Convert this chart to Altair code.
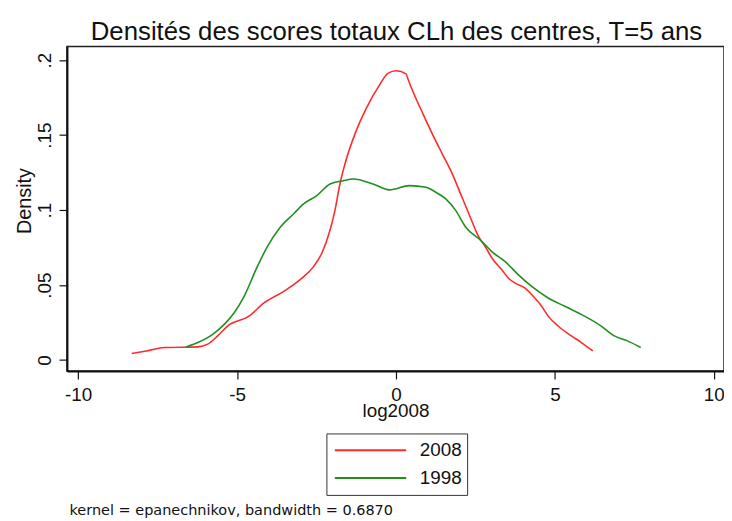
import altair as alt
import pandas as pd

# ---- data ----
series_names = ["2008", "1998"]
series_colors = ["#ff2b2b", "#1f8f1f"]

x2008 = [-8.315, -7.847, -7.273, -6.234, -5.922, -5.610, -5.298, -4.621, -4.153, -3.529,
         -2.958, -2.593, -2.334, -2.075, -1.919, -1.763, -1.607, -1.295, -0.930, -0.515,
         -0.253, 0.006, 0.318, 0.371, 0.577, 0.839, 1.151, 1.463, 1.775, 2.034,
         2.293, 2.605, 2.814, 3.023, 3.335, 3.541, 3.750, 4.062, 4.271, 4.583,
         4.789, 5.101, 5.519, 5.832, 6.193]
y2008 = [0.0044, 0.0061, 0.0084, 0.0088, 0.0106, 0.0161, 0.0227, 0.0293, 0.0381, 0.0458,
         0.0546, 0.0623, 0.0712, 0.0866, 0.0998, 0.1174, 0.1306, 0.1505, 0.1680, 0.1835,
         0.1912, 0.1929, 0.1908, 0.1878, 0.1769, 0.1647, 0.1505, 0.1372, 0.1240, 0.1108,
         0.0976, 0.0821, 0.0755, 0.0679, 0.0601, 0.0546, 0.0513, 0.0480, 0.0436, 0.0359,
         0.0293, 0.0227, 0.0161, 0.0117, 0.0061]

x1998 = [-6.599, -6.234, -5.766, -5.401, -5.089, -4.777, -4.362, -4.050, -3.635, -3.217,
         -2.905, -2.490, -2.075, -1.657, -1.345, -0.721, -0.203, 0.421, 0.942, 1.254,
         1.566, 1.878, 2.190, 2.658, 3.023, 3.438, 3.853, 4.271, 4.789, 5.310,
         5.934, 6.456, 6.871, 7.285, 7.700]
y1998 = [0.0088, 0.0117, 0.0172, 0.0238, 0.0315, 0.0425, 0.0623, 0.0755, 0.0887, 0.0976,
         0.1042, 0.1097, 0.1174, 0.1196, 0.1207, 0.1174, 0.1135, 0.1163, 0.1152, 0.1119,
         0.1075, 0.0998, 0.0887, 0.0800, 0.0722, 0.0656, 0.0568, 0.0491, 0.0414, 0.0359,
         0.0293, 0.0227, 0.0161, 0.0128, 0.0084]

x_ticks = [-10, -5, 0, 5, 10]
y_ticks = [0, 0.05, 0.1, 0.15, 0.2]

title_text = "Densités des scores totaux CLh des centres, T=5 ans"
note_text = "kernel = epanechnikov, bandwidth = 0.6870"

df = pd.concat([
    pd.DataFrame({"x": x2008, "y": y2008, "series": series_names[0]}),
    pd.DataFrame({"x": x1998, "y": y1998, "series": series_names[1]}),
], ignore_index=True)

W, H = 663, 327.5
FONT = "Liberation Sans"

lines = alt.Chart(df).mark_line(strokeWidth=1.6, interpolate="monotone").encode(
    x=alt.X("x:Q",
            scale=alt.Scale(domain=[-10.35, 10.32], nice=False, zero=False),
            axis=alt.Axis(values=x_ticks, title="log2008", grid=False,
                          labelExpr="datum.value < 0 ? '-' + abs(datum.value) : '' + datum.value",
                          labelFont=FONT, labelFontSize=19, labelColor="#111",
                          labelPadding=7, tickSize=8, tickColor="#111", tickWidth=1.2,
                          domainColor="#111", domainWidth=2,
                          titleFont=FONT, titleFontSize=19, titleFontWeight="normal",
                          titleColor="#111", titleY=45.5, titleBaseline="alphabetic")),
    y=alt.Y("y:Q",
            scale=alt.Scale(domain=[-0.0073, 0.2091], nice=False, zero=False),
            axis=alt.Axis(values=y_ticks, title="Density", grid=False,
                          labelExpr="datum.value == 0 ? '0' : replace(format(datum.value, '.2~f'), '0.', '.')",
                          labelFont=FONT, labelFontSize=19, labelColor="#111",
                          labelAngle=270, labelAlign="center", labelBaseline="alphabetic",
                          labelPadding=8.5, tickSize=8, tickColor="#111", tickWidth=1.2,
                          domainColor="#111", domainWidth=2,
                          titleFont=FONT, titleFontSize=20, titleFontWeight="normal",
                          titleColor="#111", titleAngle=270, titleAlign="center",
                          titleBaseline="alphabetic", titleX=-36.8, titleY=155.5)),
    color=alt.Color("series:N",
                    scale=alt.Scale(domain=series_names, range=series_colors),
                    sort=series_names,
                    legend=alt.Legend(title=None, orient="none", legendX=261.8, legendY=390.5,
                                      direction="vertical", symbolType="stroke",
                                      symbolSize=5184, symbolStrokeWidth=2, clipHeight=24,
                                      rowPadding=4, padding=5, symbolOffset=2.5,
                                      labelFont=FONT,
                                      labelFontSize=19, labelColor="#111", labelOffset=12.7,
                                      strokeColor="#333", fillColor="white")),
)

title_mark = alt.Chart(pd.DataFrame({"t": [title_text]})).mark_text(
    font=FONT, fontSize=26, align="center", baseline="alphabetic", color="#111"
).encode(x=alt.value(332.5), y=alt.value(-6.1), text="t:N")

note_mark = alt.Chart(pd.DataFrame({"t": [note_text]})).mark_text(
    font="DejaVu Sans", fontSize=14.6, align="left", baseline="alphabetic", color="#111"
).encode(x=alt.value(2.5), y=alt.value(472.5), text="t:N")

chart = alt.layer(lines, title_mark, note_mark).properties(
    width=W, height=H,
    autosize=alt.AutoSizeParams(type="none"),
    padding={"left": 59.5, "top": 36.5, "right": 0, "bottom": 147},
).configure_view(stroke="#222", strokeWidth=1.5)

chart.save("out.html", embed_options={"renderer": "svg", "actions": False})
